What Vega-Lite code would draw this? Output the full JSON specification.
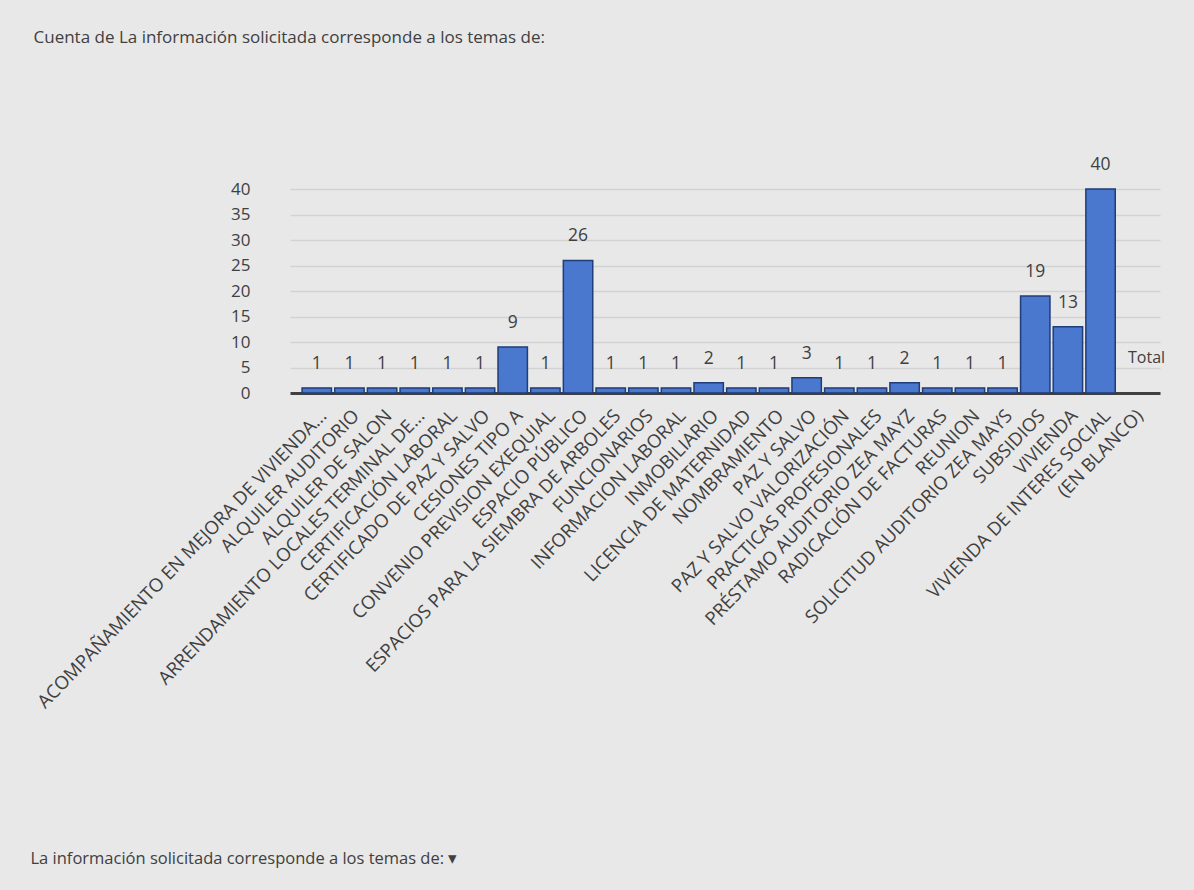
{
  "$schema": "https://vega.github.io/schema/vega-lite/v6.json",
  "autosize": {"type": "none"},
  "width": 870,
  "height": 204,
  "padding": {"left": 290, "top": 189, "right": 34, "bottom": 497},
  "background": "#e8e8e8",
  "config": {
    "view": {"stroke": null},
    "font": "Open Sans",
    "axis": {"labelColor": "#404040", "titleColor": "#404040", "labelFont": "Open Sans", "titleFont": "Open Sans"}
  },
  "data": {
    "values": [
      {"tema": "ACOMPAÑAMIENTO EN MEJORA DE VIVIENDA...", "cuenta": 1, "serie": "Total"},
      {"tema": "ALQUILER AUDITORIO", "cuenta": 1, "serie": "Total"},
      {"tema": "ALQUILER DE SALON", "cuenta": 1, "serie": "Total"},
      {"tema": "ARRENDAMIENTO LOCALES TERMINAL DE...", "cuenta": 1, "serie": "Total"},
      {"tema": "CERTIFICACIÓN LABORAL", "cuenta": 1, "serie": "Total"},
      {"tema": "CERTIFICADO DE PAZ Y SALVO", "cuenta": 1, "serie": "Total"},
      {"tema": "CESIONES TIPO A", "cuenta": 9, "serie": "Total"},
      {"tema": "CONVENIO PREVISION EXEQUIAL", "cuenta": 1, "serie": "Total"},
      {"tema": "ESPACIO PÚBLICO", "cuenta": 26, "serie": "Total"},
      {"tema": "ESPACIOS PARA LA SIEMBRA DE ARBOLES", "cuenta": 1, "serie": "Total"},
      {"tema": "FUNCIONARIOS", "cuenta": 1, "serie": "Total"},
      {"tema": "INFORMACION LABORAL", "cuenta": 1, "serie": "Total"},
      {"tema": "INMOBILIARIO", "cuenta": 2, "serie": "Total"},
      {"tema": "LICENCIA DE MATERNIDAD", "cuenta": 1, "serie": "Total"},
      {"tema": "NOMBRAMIENTO", "cuenta": 1, "serie": "Total"},
      {"tema": "PAZ Y SALVO", "cuenta": 3, "serie": "Total"},
      {"tema": "PAZ Y SALVO VALORIZACIÓN", "cuenta": 1, "serie": "Total"},
      {"tema": "PRACTICAS PROFESIONALES", "cuenta": 1, "serie": "Total"},
      {"tema": "PRÉSTAMO AUDITORIO ZEA MAYZ", "cuenta": 2, "serie": "Total"},
      {"tema": "RADICACIÓN DE FACTURAS", "cuenta": 1, "serie": "Total"},
      {"tema": "REUNION", "cuenta": 1, "serie": "Total"},
      {"tema": "SOLICITUD AUDITORIO ZEA MAYS", "cuenta": 1, "serie": "Total"},
      {"tema": "SUBSIDIOS", "cuenta": 19, "serie": "Total"},
      {"tema": "VIVIENDA", "cuenta": 13, "serie": "Total"},
      {"tema": "VIVIENDA DE INTERES SOCIAL", "cuenta": 40, "serie": "Total"},
      {"tema": "(EN BLANCO)", "cuenta": null, "serie": "Total"}
    ]
  },
  "encoding": {
    "x": {
      "field": "tema",
      "type": "nominal",
      "sort": null,
      "scale": {
        "domain": ["ACOMPAÑAMIENTO EN MEJORA DE VIVIENDA...", "ALQUILER AUDITORIO", "ALQUILER DE SALON", "ARRENDAMIENTO LOCALES TERMINAL DE...", "CERTIFICACIÓN LABORAL", "CERTIFICADO DE PAZ Y SALVO", "CESIONES TIPO A", "CONVENIO PREVISION EXEQUIAL", "ESPACIO PÚBLICO", "ESPACIOS PARA LA SIEMBRA DE ARBOLES", "FUNCIONARIOS", "INFORMACION LABORAL", "INMOBILIARIO", "LICENCIA DE MATERNIDAD", "NOMBRAMIENTO", "PAZ Y SALVO", "PAZ Y SALVO VALORIZACIÓN", "PRACTICAS PROFESIONALES", "PRÉSTAMO AUDITORIO ZEA MAYZ", "RADICACIÓN DE FACTURAS", "REUNION", "SOLICITUD AUDITORIO ZEA MAYS", "SUBSIDIOS", "VIVIENDA", "VIVIENDA DE INTERES SOCIAL", "(EN BLANCO)"],
        "paddingInner": 0.1,
        "paddingOuter": 0.37
      },
      "axis": {
        "title": "La información solicitada corresponde a los temas de: ▾",
        "titleX": -260,
        "titleY": 465,
        "titleAlign": "left",
        "titleAnchor": "start",
        "titleBaseline": "middle",
        "titleFontSize": 16.5,
        "titleFontWeight": "normal",
        "labelAngle": -46,
        "labelAlign": "right",
        "labelBaseline": "top",
        "labelFontSize": 18.5,
        "labelPadding": 13,
        "labelOffset": 0,
        "labelLimit": 1000,
        "labelOverlap": false,
        "ticks": false,
        "domain": true,
        "domainColor": "#404040",
        "domainWidth": 3,
        "grid": false
      }
    },
    "y": {
      "field": "cuenta",
      "type": "quantitative",
      "scale": {"domain": [0, 40], "nice": false},
      "axis": {
        "title": "Cuenta de La información solicitada corresponde a los temas de:",
        "titleX": -257,
        "titleY": -152,
        "titleAngle": 0,
        "titleAlign": "left",
        "titleAnchor": "start",
        "titleBaseline": "middle",
        "titleFontSize": 17,
        "titleFontWeight": "normal",
        "values": [0, 5, 10, 15, 20, 25, 30, 35, 40],
        "labelOverlap": false,
        "labelFontSize": 17,
        "labelPadding": 40,
        "ticks": false,
        "tickSize": 0,
        "domain": false,
        "grid": true,
        "gridColor": "#d2d2d2",
        "gridWidth": 1.5
      }
    }
  },
  "layer": [
    {
      "mark": {"type": "bar", "stroke": "#1f3d78", "strokeWidth": 1.5},
      "encoding": {
        "color": {
          "field": "serie",
          "type": "nominal",
          "scale": {"range": ["#4a78cf"]},
          "legend": {
            "orient": "none",
            "legendX": 822,
            "legendY": 161,
            "title": null,
            "symbolSize": 0,
            "symbolOpacity": 0,
            "symbolStrokeWidth": 0,
            "labelFontSize": 16,
            "labelColor": "#404040",
            "labelOffset": 0,
            "labelFont": "Open Sans"
          }
        }
      }
    },
    {
      "mark": {"type": "text", "baseline": "bottom", "dy": -15, "fontSize": 17.5, "color": "#404040"},
      "encoding": {
        "text": {"field": "cuenta", "type": "quantitative"}
      }
    }
  ]
}
